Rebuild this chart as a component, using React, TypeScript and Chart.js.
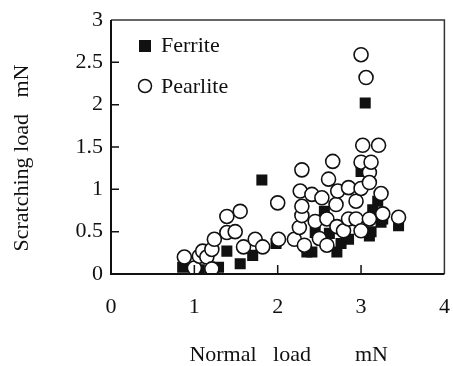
import React, { useEffect, useRef } from "react";
import { Chart, registerables } from "chart.js";

Chart.register(...registerables);

const xTickValues = [0, 1, 2, 3, 4];
const yTickValues = [0, 0.5, 1, 1.5, 2, 2.5, 3];
const legendLabels = ["Ferrite", "Pearlite"];

const ferriteLoad = [0.86, 1.06, 1.2, 1.29, 1.39, 1.55, 1.7, 1.81, 1.98, 2.35, 2.41, 2.45, 2.56, 2.62, 2.71, 2.76, 2.85, 3.0, 3.05, 3.1, 3.12, 3.14, 3.2, 3.24, 3.26, 3.45];
const ferriteScratch = [0.08, 0.05, 0.04, 0.08, 0.27, 0.12, 0.22, 1.11, 0.36, 0.26, 0.26, 0.49, 0.74, 0.48, 0.26, 0.36, 0.41, 1.21, 2.02, 0.45, 0.5, 0.76, 0.86, 0.61, 0.65, 0.57];

const pearliteLoad = [0.88, 1.0, 1.06, 1.1, 1.15, 1.21, 1.21, 1.24, 1.39, 1.39, 1.49, 1.55, 1.59, 1.73, 1.82, 2.0, 2.01, 2.2, 2.26, 2.29, 2.29, 2.27, 2.29, 2.32, 2.41, 2.45, 2.5, 2.53, 2.59, 2.59, 2.61, 2.66, 2.7, 2.71, 2.72, 2.79, 2.85, 2.85, 2.94, 2.94, 3.0, 3.0, 3.0, 3.0, 3.02, 3.06, 3.1, 3.1, 3.1, 3.12, 3.21, 3.24, 3.26, 3.45];
const pearliteScratch = [0.2, 0.07, 0.21, 0.27, 0.2, 0.29, 0.06, 0.41, 0.49, 0.68, 0.5, 0.74, 0.32, 0.41, 0.32, 0.84, 0.41, 0.41, 0.55, 0.69, 0.8, 0.98, 1.23, 0.34, 0.94, 0.62, 0.42, 0.9, 0.65, 0.34, 1.12, 1.33, 0.82, 0.56, 0.98, 0.51, 1.02, 0.65, 0.86, 0.65, 1.01, 0.51, 1.32, 2.59, 1.52, 2.32, 1.2, 1.08, 0.65, 1.32, 1.52, 0.95, 0.71, 0.67];

const FONT = "'Liberation Serif', 'Times New Roman', serif";
const INK = "#111";

const framePlugin = {
  id: "frameAndLegend",
  afterDraw(chart: any) {
    const { ctx, chartArea, scales } = chart;
    const { left, right, top, bottom } = chartArea;
    ctx.save();
    ctx.strokeStyle = "#333";
    ctx.lineWidth = 1.5;
    ctx.beginPath();
    ctx.moveTo(left, top);
    ctx.lineTo(right, top);
    ctx.lineTo(right, bottom);
    ctx.stroke();
    ctx.strokeStyle = INK;
    ctx.lineWidth = 2;
    ctx.beginPath();
    ctx.moveTo(left, top);
    ctx.lineTo(left, bottom);
    ctx.lineTo(right, bottom);
    ctx.stroke();
    ctx.lineWidth = 1.5;
    ctx.beginPath();
    yTickValues.slice(1, -1).forEach((v) => {
      const py = scales.y.getPixelForValue(v);
      ctx.moveTo(left, py);
      ctx.lineTo(left + 8, py);
    });
    xTickValues.slice(1, -1).forEach((v) => {
      const px = scales.x.getPixelForValue(v);
      ctx.moveTo(px, bottom);
      ctx.lineTo(px, bottom - 9);
    });
    ctx.stroke();
    ctx.fillStyle = INK;
    ctx.fillRect(139, 40, 12, 12);
    ctx.beginPath();
    ctx.lineWidth = 1.5;
    ctx.fillStyle = "#fff";
    ctx.arc(145, 86, 6.5, 0, Math.PI * 2);
    ctx.fill();
    ctx.stroke();
    ctx.fillStyle = INK;
    ctx.font = `22px ${FONT}`;
    ctx.textBaseline = "middle";
    ctx.textAlign = "left";
    ctx.fillText(legendLabels[0], 161, 46);
    ctx.fillText(legendLabels[1], 161, 87);
    ctx.restore();
  },
};

export default function App() {
  const ref = useRef<HTMLCanvasElement | null>(null);
  useEffect(() => {
    if (!ref.current) return;
    const chart = new Chart(ref.current, {
      type: "scatter",
      data: {
        datasets: [
          {
            label: legendLabels[0],
            data: ferriteLoad.map((x, i) => ({ x, y: ferriteScratch[i] })),
            pointStyle: "rect",
            pointRadius: 7.8,
            pointBackgroundColor: INK,
            pointBorderColor: INK,
            pointBorderWidth: 0,
            order: 1,
          },
          {
            label: legendLabels[1],
            data: pearliteLoad.map((x, i) => ({ x, y: pearliteScratch[i] })),
            pointStyle: "circle",
            pointRadius: 7,
            pointBackgroundColor: "#fff",
            pointBorderColor: INK,
            pointBorderWidth: 1.6,
            order: 0,
          },
        ],
      },
      options: {
        responsive: false,
        animation: false,
        layout: { padding: { top: 20, right: 3, left: 0, bottom: 0 } },
        plugins: { legend: { display: false }, tooltip: { enabled: false } },
        scales: {
          x: {
            type: "linear",
            min: 0,
            max: 4,
            afterBuildTicks: (s: any) => {
              s.ticks = xTickValues.map((v) => ({ value: v }));
            },
            ticks: {
              color: INK,
              font: { family: FONT, size: 22 },
              padding: 20,
              callback: (v: any) => String(v),
            },
            grid: { display: false, drawTicks: false },
            border: { display: false },
            title: {
              display: true,
              text: "    Normal   load        mN",
              color: INK,
              font: { family: FONT, size: 22, lineHeight: 1 },
              padding: { top: 0, bottom: 0 },
            },
            afterFit: (s: any) => {
              s.height = 92;
              s.paddingLeft = 0;
              s.paddingRight = 0;
            },
          },
          y: {
            type: "linear",
            min: 0,
            max: 3,
            afterBuildTicks: (s: any) => {
              s.ticks = yTickValues.map((v) => ({ value: v }));
            },
            ticks: {
              color: INK,
              font: { family: FONT, size: 22 },
              padding: 8,
              callback: (v: any) => String(v),
            },
            grid: { display: false, drawTicks: false },
            border: { display: false },
            title: {
              display: true,
              text: "Scratching load   mN    ",
              color: INK,
              font: { family: FONT, size: 22, lineHeight: 1 },
              padding: { top: 11.5, bottom: 0 },
            },
            afterFit: (s: any) => {
              s.width = 111;
              s.paddingTop = 0;
              s.paddingBottom = 0;
            },
          },
        },
      },
      plugins: [framePlugin],
    });
    return () => chart.destroy();
  }, []);
  return (
    <div style={{ position: "fixed", left: 0, top: 0, width: 453, height: 366, background: "#fff" }}>
      <canvas ref={ref} width={453} height={366} />
    </div>
  );
}
